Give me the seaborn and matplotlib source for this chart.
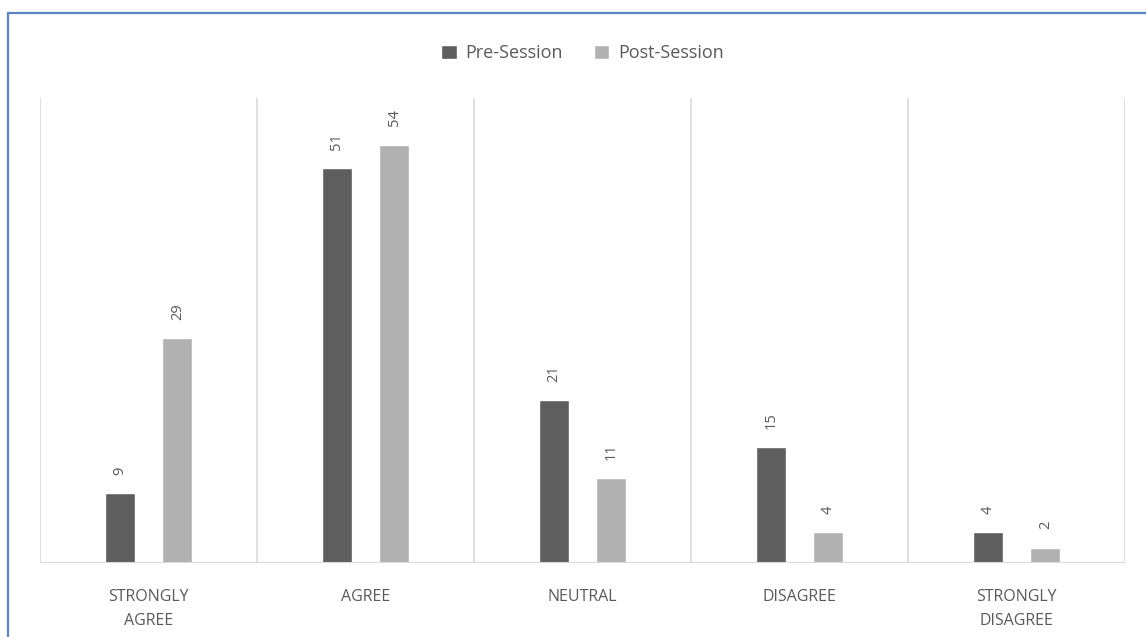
import matplotlib
matplotlib.use("Agg")
import matplotlib.pyplot as plt
from matplotlib.patches import Rectangle
import seaborn as sns
import pandas as pd

categories = ["STRONGLY\nAGREE", "AGREE", "NEUTRAL", "DISAGREE", "STRONGLY\nDISAGREE"]
series_names = ["Pre-Session", "Post-Session"]
pre_values = [9, 51, 21, 15, 4]
post_values = [29, 54, 11, 4, 2]
colors = ["#5e5e5e", "#b1b1b1"]

df = pd.DataFrame({
    "category": categories * 2,
    "value": pre_values + post_values,
    "session": [series_names[0]] * len(categories) + [series_names[1]] * len(categories),
})

sns.set_theme(style="white")
plt.rcParams["font.family"] = ["Open Sans", "DejaVu Sans"]

fig = plt.figure(figsize=(11.46, 6.37), dpi=100)
ax = fig.add_axes([40 / 1146, 1 - 563 / 637, (1125 - 40) / 1146, (563 - 98) / 637])

sns.barplot(data=df, x="category", y="value", hue="session", order=categories,
            hue_order=series_names, palette=colors, width=0.53, gap=0.47,
            saturation=1, ax=ax, legend=True)

text_color = "#595959"
for cont in ax.containers:
    ax.bar_label(cont, rotation=90, padding=13, fontsize=10.5, color=text_color)

ax.set_xlim(-0.5, len(categories) - 0.5)
ax.set_ylim(0, 60)
for s in ax.spines.values():
    s.set_visible(False)
grid_color = "#d9d9d9"
for i in range(len(categories) + 1):
    ax.axvline(i - 0.5, color=grid_color, lw=1.2, zorder=0)
ax.axhline(0, color=grid_color, lw=1.5, zorder=3)
ax.set_yticks([])
ax.set_xlabel("")
ax.set_ylabel("")
ax.tick_params(axis="x", length=0, pad=19, labelsize=11.5, labelcolor=text_color)
for lbl in ax.get_xticklabels():
    lbl.set_linespacing(1.6)

leg = ax.legend(loc="center", bbox_to_anchor=(0.5, 1 + (98 - 53) / 465), ncol=2,
                frameon=False, fontsize=13, handlelength=0.85, handleheight=0.85,
                handletextpad=0.5, columnspacing=1.7, labelcolor=text_color)

fig.patches.append(Rectangle((8 / 1146, -0.2), 1.2, 1 - 13 / 637 + 0.2,
                             transform=fig.transFigure, fill=False,
                             edgecolor="#5a86c6", lw=1.6, zorder=10))

fig.savefig("out.png", dpi=100)
